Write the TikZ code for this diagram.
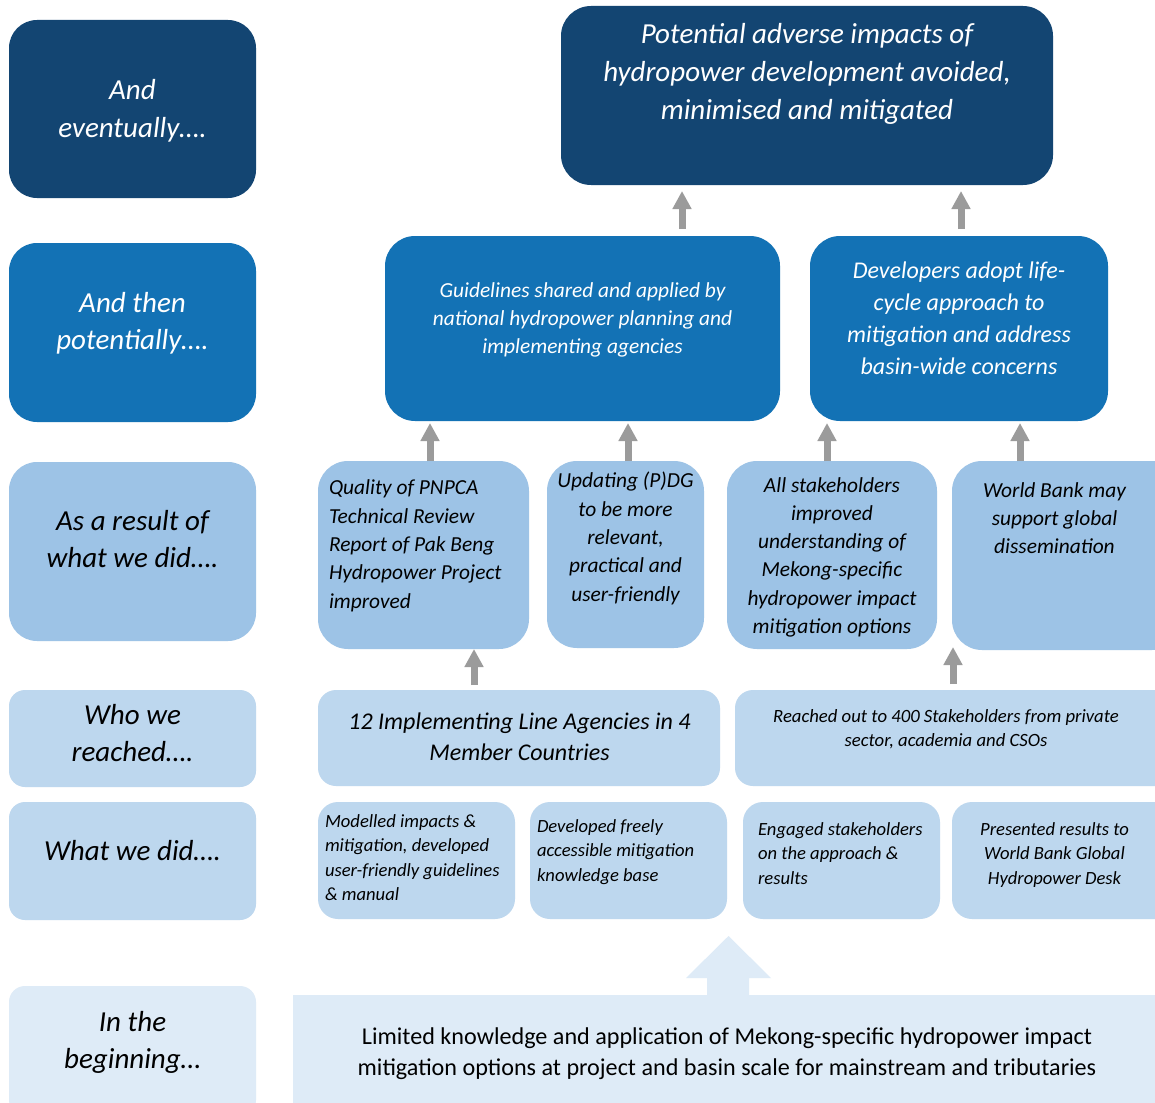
\documentclass[tikz,border=0pt]{standalone}
\usepackage{fontspec}
\setmainfont{Carlito}
\usetikzlibrary{arrows.meta}
\definecolor{navy}{HTML}{134572}
\definecolor{midb}{HTML}{1372B5}
\definecolor{lbA}{HTML}{9DC3E6}
\definecolor{lbB}{HTML}{BDD7EE}
\definecolor{lbC}{HTML}{DEEBF7}
\definecolor{arrg}{HTML}{9B9B9B}
\newcommand\bx[6]{\node[#6, anchor=north west, minimum width=#4pt, minimum height=#5pt] (#1) at (#2,#3) {};}
\begin{document}
\begin{tikzpicture}[x=1pt,y=-1pt,
  shp/.style={inner sep=0pt, outer sep=0pt, draw=none, rectangle},
  navybox/.style={shp, fill=navy, rounded corners=#1}, navybox/.default=28pt,
  midbox/.style={shp, fill=midb, rounded corners=#1}, midbox/.default=28pt,
  abox/.style={shp, fill=lbA, rounded corners=#1}, abox/.default=28pt,
  bbox/.style={shp, fill=lbB, rounded corners=#1}, bbox/.default=18pt,
  cbox/.style={shp, fill=lbC, rounded corners=#1}, cbox/.default=20pt,
  txt/.style={inner sep=0pt, outer sep=0pt, align=center, anchor=base},
  txtl/.style={inner sep=0pt, outer sep=0pt, align=left, anchor=base west},
  fL/.style={font=\fontsize{29}{37.5}\selectfont\itshape},
  fT/.style={font=\fontsize{29}{38}\selectfont\itshape},
  fA/.style={font=\fontsize{21.4}{28}\selectfont\itshape},
  fB/.style={font=\fontsize{24}{31.7}\selectfont\itshape},
  fC/.style={font=\fontsize{21.4}{28.3}\selectfont\itshape},
  fD/.style={font=\fontsize{24}{31}\selectfont\itshape},
  fE/.style={font=\fontsize{18.6}{24.5}\selectfont\itshape},
  fR/.style={font=\fontsize{24.15}{31.5}\selectfont},
  uparr/.style={draw=arrg, line width=7pt, -{Triangle[width=18pt,length=18pt]}}
]
\clip (0,0) rectangle (1155,1102);
\fill[white] (0,0) rectangle (1155,1102);

% ---- left column ----
\bx{l1}{9}{20}{247}{178}{navybox}
\bx{l2}{9}{243}{247}{179}{midbox}
\bx{l3}{9}{462}{247}{179}{abox}
\bx{l4}{9}{690}{247}{97}{bbox=16pt}
\bx{l5}{9}{802}{247}{118}{bbox=16pt}
\bx{l6}{9}{986}{247}{130}{cbox=16pt}
% text nodes: anchor base = baseline of the last line
\node[txt, fL, text=white] (l1t) at (132.5,137.5) {And\\eventually….};
\node[txt, fL, text=white] (l2t) at (132.5,349.5) {And then\\potentially….};
\node[txt, fL] (l3t) at (132.5,567.5) {As a result of\\what we did….};
\node[txt, fL] (l4t) at (132.5,761.5) {Who we\\reached….};
\node[txt, fL] (l5t) at (132.5,860) {What we did….};
\node[txt, fL] (l6t) at (132.5,1068.5) {In the\\beginning…};

% ---- top ----
\bx{top}{561}{6}{492}{179}{navybox=30pt}
\node[txt, fT, text=white] (topt) at (807,120) {Potential adverse impacts of\\hydropower development avoided,\\minimised and mitigated};

% ---- row 2 ----
\bx{ga}{385}{236}{395}{185}{midbox=30pt}
\bx{dev}{810}{236}{298}{185}{midbox=30pt}
\node[txt, fA, text=white] (gat) at (582.5,353) {Guidelines shared and applied by\\national hydropower planning and\\implementing agencies};
\node[txt, fB, text=white] (devt) at (959,374) {Developers adopt life-\\cycle approach to\\mitigation and address\\basin-wide concerns};

% ---- row 3 ----
\bx{c1}{318}{461}{211}{188}{abox=30pt}
\bx{c2}{547}{461}{157}{187}{abox=30pt}
\bx{c3}{727}{461}{210}{188}{abox=30pt}
\bx{c4}{952}{461}{230}{189}{abox=30pt}
\node[txtl, fC] (c1t) at (329,608) {Quality of PNPCA\\Technical Review\\Report of Pak Beng\\Hydropower Project\\improved};
\node[txt, fC] (c2t) at (625.5,601) {Updating (P)DG\\to be more\\relevant,\\practical and\\user-friendly};
\node[txt, fC] (c3t) at (832,633.5) {All stakeholders\\improved\\understanding of\\Mekong-specific\\hydropower impact\\mitigation options};
\node[txt, fC] (c4t) at (1054.5,553.6) {World Bank may\\support global\\dissemination};

% ---- row 4 ----
\bx{d1}{318}{690}{402}{96}{bbox=18pt}
\bx{d2}{735}{690}{440}{96}{bbox=18pt}
\node[txt, fD] (d1t) at (519.5,760) {12 Implementing Line Agencies in 4\\Member Countries};
\node[txt, fE, font=\fontsize{18.7}{24}\selectfont\itshape] (d2t) at (946,746) {Reached out to 400 Stakeholders from private\\sector, academia and CSOs};

% ---- row 5 ----
\bx{e1}{318}{802}{197}{117}{bbox=20pt}
\bx{e2}{530}{802}{197}{117}{bbox=20pt}
\bx{e3}{743}{802}{197}{117}{bbox=20pt}
\bx{e4}{952}{802}{230}{117}{bbox=20pt}
\node[txtl, fE] (e1t) at (325,900.5) {Modelled impacts \&\\mitigation, developed\\user-friendly guidelines\\\& manual};
\node[txtl, fE] (e2t) at (537,881) {Developed freely\\accessible mitigation\\knowledge base};
\node[txtl, fE] (e3t) at (758,884) {Engaged stakeholders\\on the approach \&\\results};
\node[txt, fE] (e4t) at (1054.5,884) {Presented results to\\World Bank Global\\Hydropower Desk};

% ---- bottom ----
\node[shp, fill=lbC, anchor=north west, minimum width=880pt, minimum height=130pt] (lim) at (293,995) {};
\fill[lbC] (707,996) -- (707,978) -- (686,978) -- (728.5,936) -- (771,978) -- (749,978) -- (749,996) -- cycle;
\node[txt, fR] (limt) at (727,1075.5) {Limited knowledge and application of Mekong-specific hydropower impact\\mitigation options at project and basin scale for mainstream and tributaries};

% ---- arrows ----
\draw[uparr, shorten <=7pt, shorten >=6pt] (ga.north -| 682,0) -- (top.south -| 682,0);
\draw[uparr, shorten <=7pt, shorten >=6pt] (dev.north -| 961,0) -- (top.south -| 961,0);
\draw[uparr, shorten >=2pt] (c1.north -| 430,0) -- (ga.south -| 430,0);
\draw[uparr, shorten >=2pt] (c2.north -| 628,0) -- (ga.south -| 628,0);
\draw[uparr, shorten >=2pt] (c3.north -| 827,0) -- (dev.south -| 827,0);
\draw[uparr, shorten >=2pt] (c4.north -| 1020,0) -- (dev.south -| 1020,0);
\draw[uparr, shorten <=5pt, shorten >=0pt] (d1.north -| 474,0) -- (c1.south -| 474,0);
\draw[uparr, shorten <=6pt, shorten >=-3pt] (d2.north -| 953,0) -- (c4.south -| 953,0);
\end{tikzpicture}
\end{document}
